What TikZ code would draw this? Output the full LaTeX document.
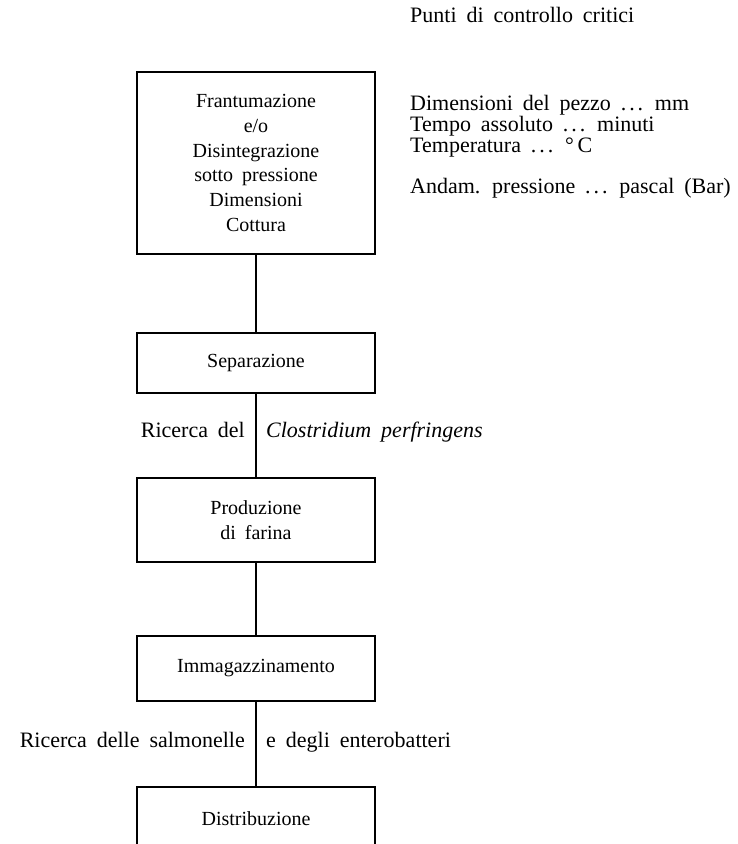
\documentclass[tikz,border=0pt]{standalone}
\usepackage{fontspec}
\setmainfont{Liberation Serif}[WordSpace=1.8]
\newcommand{\dotsep}{.\kern3pt.\kern3pt.}
\begin{document}
\begin{tikzpicture}[x=1pt,y=-1pt,
  txt/.style={font=\fontsize{22}{26}\selectfont, inner sep=0pt},
  boxtxt/.style={font=\fontsize{20}{24.7}\selectfont, inner sep=0pt},
  stepbox/.style={boxtxt, draw, line width=1.1pt, minimum width=238pt, align=center},
  link/.style={line width=1.1pt}]
\useasboundingbox (0,0) rectangle (738,844);
\clip (0,0) rectangle (738,844);

% process steps
\node[stepbox, minimum height=182pt] (frant) at (256,163)
  {Frantumazione\\e/o\\Disintegrazione\\sotto pressione\\Dimensioni\\Cottura};
\node[stepbox, minimum height=60pt] (sep) at (256,363) {Separazione};
\node[stepbox, minimum height=84pt] (prod) at (256,520) {Produzione\\di farina};
\node[stepbox, minimum height=65pt] (imm) at (256,668.5) {Immagazzinamento};
\node[stepbox, minimum height=64pt] (distr) at (256,819) {Distribuzione};

% flow connectors
\draw[link] (frant.south) -- (sep.north);
\draw[link] (sep.south) -- (prod.north);
\draw[link] (prod.south) -- (imm.north);
\draw[link] (imm.south) -- (distr.north);

% critical control points
\node[txt, anchor=base west] (title) at (410,22) {Punti di controllo critici};
\node[txt, anchor=base west] (cc1) at (410,110) {Dimensioni del pezzo \dotsep{} mm};
\node[txt, anchor=base west] (cc2) at (410,131) {Tempo assoluto \dotsep{} minuti};
\node[txt, anchor=base west] (cc3) at (410,152) {Temperatura \dotsep{} °\,C};
\node[txt, anchor=base west] (cc4) at (410,193) {Andam. pressione \dotsep{} pascal (Bar)};

% checks beside the flow line
\node[txt, anchor=base east] (chk1l) at (245,437) {Ricerca del};
\node[txt, anchor=base west] (chk1r) at (266,437) {\itshape Clostridium perfringens};
\node[txt, anchor=base east] (chk2l) at (245,747) {Ricerca delle salmonelle};
\node[txt, anchor=base west] (chk2r) at (266,747) {e degli enterobatteri};
\end{tikzpicture}
\end{document}
